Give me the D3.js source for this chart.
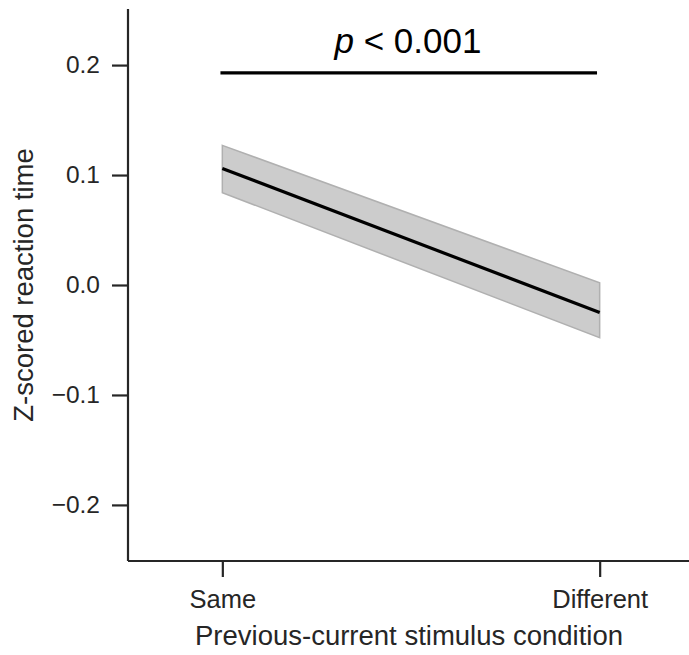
<!DOCTYPE html>
<html><head><meta charset="utf-8">
<script src="https://cdn.jsdelivr.net/npm/d3@7"></script>
<style>body{margin:0;background:#fff}</style>
</head><body>
<script>
const categories = ["Same", "Different"];
const meanValues = [0.106, -0.025];
const upperValues = [0.127, 0.002];
const lowerValues = [0.084, -0.048];
const yTicks = [-0.2, -0.1, 0.0, 0.1, 0.2];
const sigValue = 0.193;
const sigLabel = "< 0.001";

const W = 689, H = 655;
const svg = d3.select("body").append("svg").attr("width", W).attr("height", H);
const font = "Liberation Sans, Arial, sans-serif";
const dark = "#262626";

const x = d3.scaleLinear().domain([-0.25, 1.25]).range([128, 694]);
const y = d3.scaleLinear().domain([-0.251, 0.251]).range([561, 9]);

const data = categories.map((c, i) => ({i, m: meanValues[i], lo: lowerValues[i], hi: upperValues[i]}));

svg.append("path").datum(data)
  .attr("d", d3.area().x(d => x(d.i)).y0(d => y(d.lo)).y1(d => y(d.hi)))
  .attr("fill", "#cccccc").attr("stroke", "#b0b0b0").attr("stroke-width", 1.5);

svg.append("path").datum(data)
  .attr("d", d3.line().x(d => x(d.i)).y(d => y(d.m)))
  .attr("fill", "none").attr("stroke", "#000").attr("stroke-width", 3.2);

// axes
const yAxis = svg.append("g").attr("transform", `translate(${x(-0.25)},0)`)
  .call(d3.axisLeft(y).tickValues(yTicks).tickSize(16).tickPadding(12)
    .tickFormat(d => d3.format(".1f")(d).replace("-", "\u2212")));
const xAxis = svg.append("g").attr("transform", `translate(0,${y(-0.251)})`)
  .call(d3.axisBottom(x).tickValues([0, 1]).tickSize(16).tickPadding(13)
    .tickFormat(d => categories[d]));
[yAxis, xAxis].forEach(g => {
  g.attr("font-size", null).attr("font-family", null);
  g.select(".domain").attr("stroke", dark).attr("stroke-width", 2.2);
  g.selectAll(".tick line").attr("stroke", dark).attr("stroke-width", 2.2);
  g.selectAll(".tick text").attr("fill", dark).style("font-family", font).style("font-size", "24.5px");
});
xAxis.selectAll(".tick text").style("font-size", "25.5px");
xAxis.select(".domain").attr("d", `M${x(-0.25)},0H${x(1.25)}`);
yAxis.select(".domain").attr("d", `M0,${y(-0.251)}V${y(0.251)}`);

// significance
svg.append("line").attr("x1", x(-0.005)).attr("x2", x(0.993))
  .attr("y1", y(sigValue)).attr("y2", y(sigValue))
  .attr("stroke", "#000").attr("stroke-width", 3.2);
const t = svg.append("text").attr("x", 408).attr("y", 53).attr("text-anchor", "middle")
  .style("font-family", font).style("font-size", "35px").attr("fill", "#000");
t.append("tspan").style("font-style", "italic").text("p");
t.append("tspan").text(" " + sigLabel);

// labels
svg.append("text").attr("x", 409).attr("y", 645).attr("text-anchor", "middle")
  .style("font-family", font).style("font-size", "27.5px").attr("fill", dark)
  .text("Previous-current stimulus condition");
svg.append("text").attr("transform", `translate(33,${y(0)}) rotate(-90)`).attr("text-anchor", "middle")
  .style("font-family", font).style("font-size", "27.5px").attr("fill", dark)
  .text("Z-scored reaction time");
</script>
</body></html>
